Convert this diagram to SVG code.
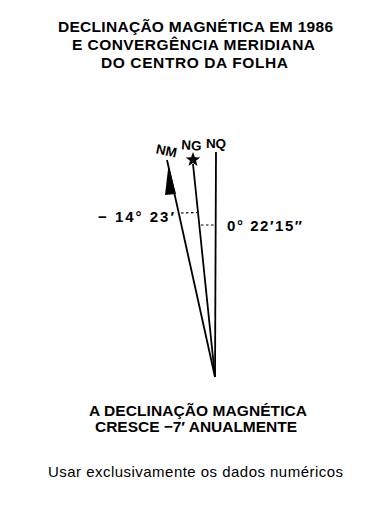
<svg xmlns="http://www.w3.org/2000/svg" width="367" height="511" viewBox="0 0 367 511">
<style>
.t{font-family:"Liberation Sans",Arial,sans-serif;font-weight:bold;fill:#000;text-anchor:middle}
.n{font-family:"Liberation Sans",Arial,sans-serif;fill:#000;text-anchor:middle}
.ln{stroke:#000;stroke-width:1.8;fill:none}
.ds{stroke:#000;stroke-width:1.2;fill:none;stroke-dasharray:2.5,2.5}
</style>
<rect width="367" height="511" fill="#fff"/>
<g id="title">
<text class="t" x="195.5" y="31.5" font-size="15.5" textLength="275" lengthAdjust="spacing">DECLINAÇÃO MAGNÉTICA EM 1986</text>
<text class="t" x="193.5" y="49.5" font-size="15.5" textLength="243" lengthAdjust="spacing">E CONVERGÊNCIA MERIDIANA</text>
<text class="t" x="194.5" y="67.5" font-size="15.5" textLength="187" lengthAdjust="spacing">DO CENTRO DA FOLHA</text>
</g>
<g id="connectors">
<line class="ln" x1="167" y1="160" x2="215" y2="377"/>
<line class="ln" x1="193" y1="164" x2="215" y2="377"/>
<line class="ln" x1="216" y1="152" x2="215" y2="377"/>
<polygon points="168.5,165 165,195 176,194" fill="#000"/>
<line class="ds" x1="181" y1="213" x2="197" y2="212.5"/>
<line class="ds" x1="201" y1="225" x2="215.5" y2="225"/>
</g>
<g id="NM"><text class="t" font-size="13.5" transform="translate(165.5,155.5) rotate(12)">NM</text></g>
<g id="NG"><text class="t" font-size="13.5" transform="translate(191,150) rotate(4)">NG</text>
<polygon points="193,152 194.9,157.2 200.2,157.4 196,160.7 197.5,166 193,162.9 188.5,166 190,160.7 185.8,157.4 191.1,157.2" fill="#000"/></g>
<g id="NQ"><text class="t" font-size="13.5" x="216" y="148">NQ</text></g>
<g id="decl"><text class="t" font-size="15" x="174" y="221.5" style="text-anchor:end" textLength="76" lengthAdjust="spacing">− 14° 23′</text></g>
<g id="conv"><text class="t" font-size="15" x="227" y="230.5" style="text-anchor:start" textLength="75" lengthAdjust="spacing">0° 22′15″</text></g>
<g id="note">
<text class="t" x="198" y="416" font-size="15.5" textLength="218" lengthAdjust="spacing">A DECLINAÇÃO MAGNÉTICA</text>
<text class="t" x="196" y="432" font-size="15.5" textLength="202" lengthAdjust="spacing">CRESCE −7′ ANUALMENTE</text>
<text class="n" x="195.5" y="477" font-size="15" textLength="295" lengthAdjust="spacing">Usar exclusivamente os dados numéricos</text>
</g>
</svg>
